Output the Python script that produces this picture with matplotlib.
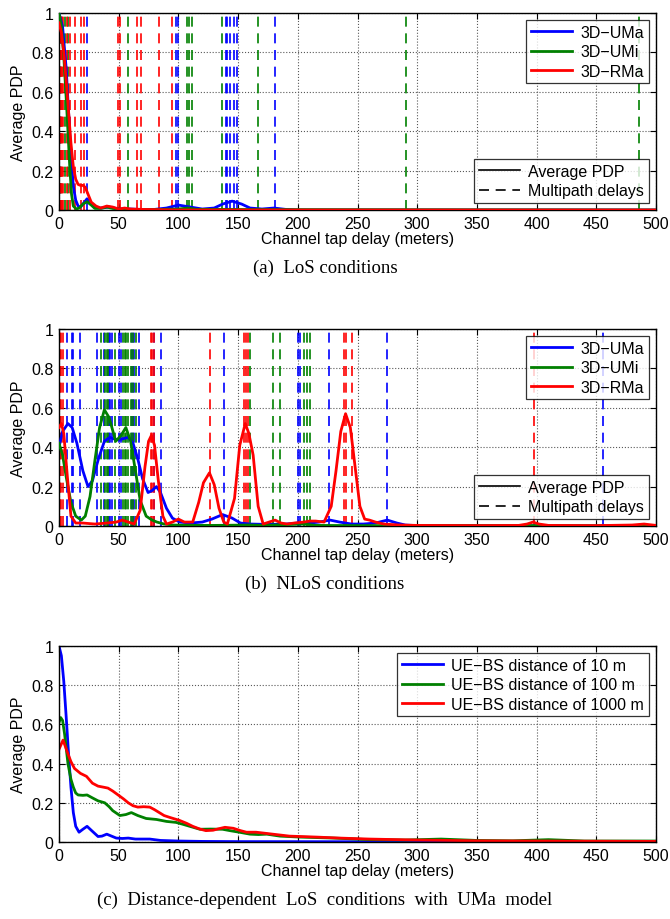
import matplotlib
matplotlib.use("Agg")
import matplotlib.pyplot as plt
from matplotlib.lines import Line2D

plt.rcParams['font.family'] = ['Liberation Sans', 'DejaVu Sans']
plt.rcParams['font.size'] = 11.5

BLUE = (0, 0, 1)
GREEN = (0, 0.5, 0)
RED = (1, 0, 0)

# ---------------- (a) LoS conditions ----------------
a_uma_x = [0, 3, 6, 8, 10, 12, 14, 16, 18, 20, 23.5, 27, 30, 35, 42, 50, 60, 70, 80, 90,
           100, 110, 120, 130, 137, 145, 153, 160, 170, 180, 190, 200, 500]
a_uma_y = [1.0, 0.93, 0.72, 0.5, 0.28, 0.12, 0.05, 0.02, 0.015, 0.03, 0.057, 0.035, 0.012, 0.01,
           0.015, 0.005, 0.005, 0.002, 0.003, 0.01, 0.025, 0.015, 0.005, 0.01, 0.03, 0.045, 0.03,
           0.01, 0.005, 0.01, 0.003, 0.0, 0.0]
a_umi_x = [0, 2, 4, 6, 7.5, 9, 10.5, 12, 14.5, 17, 20, 23.5, 27, 30, 35, 40, 45, 55, 80, 100,
           108, 115, 140, 170, 500]
a_umi_y = [1.0, 0.93, 0.78, 0.57, 0.4, 0.22, 0.08, 0.02, 0.005, 0.01, 0.03, 0.042, 0.025, 0.008,
           0.008, 0.015, 0.008, 0.003, 0.002, 0.005, 0.01, 0.003, 0.003, 0.002, 0.0]
a_rma_x = [0, 2, 4, 6, 8, 10, 12, 14, 16, 18, 20, 22, 24, 27, 31, 35, 40, 45, 50, 55, 60, 70,
           80, 100, 500]
a_rma_y = [0.95, 0.9, 0.8, 0.66, 0.5, 0.34, 0.22, 0.156, 0.13, 0.125, 0.125, 0.115, 0.085, 0.04,
           0.02, 0.01, 0.02, 0.015, 0.005, 0.01, 0.005, 0.003, 0.002, 0.0, 0.0]

a_uma_taps = [0, 0.5, 1.2, 23.8, 98.3, 100, 139.5, 141, 143, 146.6, 149.4, 180.7]
a_umi_taps = [0, 1.5, 4.8, 7.4, 57.8, 107.5, 109, 111, 136.5, 166.7, 291, 486]
a_rma_taps = [0, 0.7, 1.4, 2.5, 3.5, 7, 9.5, 13.7, 18.7, 20.7, 49.4, 50.8, 65.6, 69, 83.5, 95]

# ---------------- (b) NLoS conditions ----------------
b_uma_x = [0, 3, 7.5, 11, 15, 20, 24.3, 28, 33, 38, 42.5, 47, 52, 57.8, 62, 66, 70, 74.6, 78,
           81.6, 85, 90, 95, 101, 110, 120, 128, 137, 145, 152, 160, 175, 190, 200, 210, 218,
           227, 235, 245, 255, 265, 275, 283, 290, 300, 500]
b_uma_y = [0.40, 0.48, 0.52, 0.50, 0.42, 0.28, 0.20, 0.23, 0.34, 0.43, 0.45, 0.44, 0.44, 0.45,
           0.42, 0.34, 0.24, 0.17, 0.18, 0.20, 0.17, 0.09, 0.04, 0.02, 0.015, 0.02, 0.035, 0.058,
           0.04, 0.015, 0.01, 0.008, 0.01, 0.015, 0.015, 0.02, 0.03, 0.02, 0.01, 0.01, 0.015,
           0.03, 0.015, 0.005, 0.002, 0.0]
b_umi_x = [0, 3, 6, 10, 14, 18.7, 22, 26, 30, 34, 38, 42, 47.5, 52, 56, 60, 64, 68, 73, 78,
           82, 88, 95, 110, 130, 160, 170, 205, 215, 250, 400, 500]
b_umi_y = [0.42, 0.36, 0.25, 0.12, 0.05, 0.03, 0.05, 0.15, 0.33, 0.50, 0.59, 0.55, 0.43, 0.46,
           0.50, 0.43, 0.28, 0.13, 0.05, 0.03, 0.02, 0.01, 0.005, 0.003, 0.003, 0.005, 0.003,
           0.01, 0.003, 0.002, 0.002, 0.0]
b_rma_x = [0, 2, 4, 7, 10, 14, 20, 30, 40, 48, 53, 58, 63, 68, 72, 75, 77.4, 80, 83, 87, 90,
           95, 100, 105, 112, 117, 121, 126, 130, 134, 138, 141, 147, 151.4, 156, 159, 162.6,
           166.8, 171, 176, 181, 186, 191, 197, 205, 210, 215, 222, 228, 232, 236, 240, 244,
           248, 252, 256, 260, 265, 272, 285, 300, 350, 385, 392, 397, 402, 410, 450, 480, 490,
           500]
b_rma_y = [0.50, 0.52, 0.47, 0.25, 0.05, 0.015, 0.015, 0.01, 0.015, 0.02, 0.03, 0.02, 0.01,
           0.08, 0.3, 0.43, 0.46, 0.41, 0.24, 0.05, 0.01, 0.02, 0.035, 0.02, 0.02, 0.12, 0.22,
           0.27, 0.21, 0.09, 0.02, 0.01, 0.14, 0.41, 0.52, 0.47, 0.36, 0.1, 0.01, 0.02, 0.03,
           0.015, 0.01, 0.015, 0.02, 0.025, 0.025, 0.02, 0.1, 0.28, 0.48, 0.57, 0.5, 0.3, 0.1,
           0.035, 0.03, 0.02, 0.01, 0.005, 0.003, 0.002, 0.003, 0.01, 0.02, 0.01, 0.003, 0.002,
           0.005, 0.01, 0.003]

b_uma_taps = [7, 11, 11.7, 18, 31.6, 37.7, 42, 43, 44, 50.6, 51.7, 61, 63, 66.7, 79.6, 85.8,
              138.2, 200, 202, 226, 275, 456]
b_umi_taps = [0, 35.5, 38.9, 40, 41, 47, 53.6, 55, 56.5, 58, 60, 62, 64.8, 160.3, 178.9,
              184.8, 205, 208, 210]
b_rma_taps = [0, 1, 2, 3, 76.8, 78, 79.3, 126.2, 154.7, 156.5, 158, 239, 240.5, 245.4, 397.6]

# ---------------- (c) distance-dependent LoS, UMa ----------------
c_d10_x = [0, 2, 4, 6, 8, 10, 12, 14, 16.8, 20, 23.5, 27, 32.7, 36, 40, 44, 48, 53, 58, 64,
           70, 76, 85, 100, 120, 150, 500]
c_d10_y = [1.0, 0.95, 0.82, 0.64, 0.45, 0.28, 0.15, 0.08, 0.05, 0.065, 0.08, 0.06, 0.028, 0.03,
           0.04, 0.03, 0.02, 0.018, 0.02, 0.015, 0.015, 0.015, 0.008, 0.005, 0.003, 0.002, 0.0]
c_d100_x = [0, 1.4, 3, 4.7, 7.5, 10, 12, 14, 16, 20, 23.5, 28, 32.7, 38.3, 42, 45, 51, 56,
            60.6, 66, 73, 81.6, 90, 98, 104, 109.5, 118, 127, 137, 144, 151, 160, 167, 174,
            185, 202, 230, 260, 290, 320, 350, 380, 410, 440, 470, 500]
c_d100_y = [0.61, 0.635, 0.62, 0.55, 0.40, 0.32, 0.28, 0.25, 0.24, 0.238, 0.24, 0.225, 0.21,
            0.2, 0.18, 0.16, 0.135, 0.14, 0.15, 0.135, 0.12, 0.115, 0.105, 0.1, 0.09, 0.08,
            0.065, 0.066, 0.065, 0.057, 0.05, 0.04, 0.038, 0.04, 0.03, 0.025, 0.02, 0.012, 0.01,
            0.015, 0.008, 0.006, 0.012, 0.005, 0.005, 0.005]
c_d1000_x = [0, 3.4, 7.5, 10, 13, 18, 23, 28, 32.7, 37, 41, 45, 49.5, 54, 58, 62, 66, 71, 76,
             80, 84, 88, 93, 101, 107, 112, 118, 123, 129, 134, 139, 146, 152, 157, 165, 172,
             179, 193, 216, 235, 260, 300, 350, 400, 450, 500]
c_d1000_y = [0.473, 0.52, 0.45, 0.41, 0.375, 0.35, 0.335, 0.3, 0.285, 0.28, 0.275, 0.26, 0.24,
             0.22, 0.2, 0.185, 0.178, 0.18, 0.178, 0.165, 0.15, 0.135, 0.125, 0.11, 0.095, 0.08,
             0.066, 0.058, 0.06, 0.068, 0.075, 0.07, 0.058, 0.05, 0.05, 0.045, 0.04, 0.03, 0.025,
             0.02, 0.015, 0.01, 0.006, 0.005, 0.004, 0.003]

models = ["3D\u2212UMa", "3D\u2212UMi", "3D\u2212RMa"]
distances = ["UE\u2212BS distance of 10 m", "UE\u2212BS distance of 100 m",
             "UE\u2212BS distance of 1000 m"]
captions = ["(a)  LoS conditions", "(b)  NLoS conditions",
            "(c)  Distance-dependent  LoS  conditions  with  UMa  model"]
colors = [BLUE, GREEN, RED]

fig = plt.figure(figsize=(6.7, 9.2), dpi=100)
W, H = 670.0, 920.0
ax_left, ax_right = 59, 656
panel_px = [(14, 211), (330, 527), (647, 843)]
axes = []
for top, bottom in panel_px:
    ax = fig.add_axes([ax_left / W, 1 - bottom / H, (ax_right - ax_left) / W, (bottom - top) / H])
    axes.append(ax)

dash = (0, (6, 4))
leg_kw = dict(handlelength=2.6, fontsize=11.5, frameon=True, fancybox=False,
              borderpad=0.3, labelspacing=0.28, handletextpad=0.5, borderaxespad=0)


def style_axis(ax):
    ax.set_xlim(0, 500)
    ax.set_ylim(0, 1)
    ax.set_xticks(range(0, 501, 50))
    ax.set_yticks([0, 0.2, 0.4, 0.6, 0.8, 1])
    ax.set_yticklabels(["0", "0.2", "0.4", "0.6", "0.8", "1"])
    ax.grid(True, linestyle=":", color="0.35", linewidth=0.8)
    ax.tick_params(direction="in", top=True, right=True, length=4, width=0.8, pad=4,
                   labelsize=11.5)
    for s in ax.spines.values():
        s.set_linewidth(1.0)
    ax.set_xlabel("Channel tap delay (meters)", fontsize=11.5, labelpad=0)
    ax.set_ylabel("Average PDP", fontsize=11.5, labelpad=4)


def frame(leg):
    leg.get_frame().set_edgecolor("black")
    leg.get_frame().set_linewidth(0.9)


def pdp_panel(ax, taps, curves):
    for tap_list, c in zip(taps, colors):
        for t in tap_list:
            ax.axvline(t, color=c, linestyle=dash, linewidth=1.2, zorder=2)
    for (x, y), c in zip(curves, colors):
        ax.plot(x, y, color=c, linewidth=2, zorder=3)
    style_axis(ax)
    h1 = [Line2D([], [], color=c, linewidth=2) for c in colors]
    leg1 = ax.legend(h1, models, loc="upper right", bbox_to_anchor=(0.988, 0.965), **leg_kw)
    frame(leg1)
    ax.add_artist(leg1)
    h2 = [Line2D([], [], color="black", linewidth=1.2),
          Line2D([], [], color="black", linewidth=1.2, linestyle=dash)]
    leg2 = ax.legend(h2, ["Average PDP", "Multipath delays"], loc="lower right",
                     bbox_to_anchor=(0.988, 0.035), **leg_kw)
    frame(leg2)


pdp_panel(axes[0], [a_uma_taps, a_umi_taps, a_rma_taps],
          [(a_uma_x, a_uma_y), (a_umi_x, a_umi_y), (a_rma_x, a_rma_y)])
pdp_panel(axes[1], [b_uma_taps, b_umi_taps, b_rma_taps],
          [(b_uma_x, b_uma_y), (b_umi_x, b_umi_y), (b_rma_x, b_rma_y)])

ax = axes[2]
for (x, y), c, lab in zip([(c_d10_x, c_d10_y), (c_d100_x, c_d100_y), (c_d1000_x, c_d1000_y)],
                          colors, distances):
    ax.plot(x, y, color=c, linewidth=2, label=lab)
style_axis(ax)
frame(ax.legend(loc="upper right", bbox_to_anchor=(0.988, 0.965), **leg_kw))

for (top, bottom), cap in zip(panel_px, captions):
    fig.text(0.485, 1 - (bottom + 57) / H, cap, ha="center", va="center",
             fontsize=13.5, family=["Liberation Serif", "DejaVu Serif"])

fig.savefig("out.png", dpi=100)
